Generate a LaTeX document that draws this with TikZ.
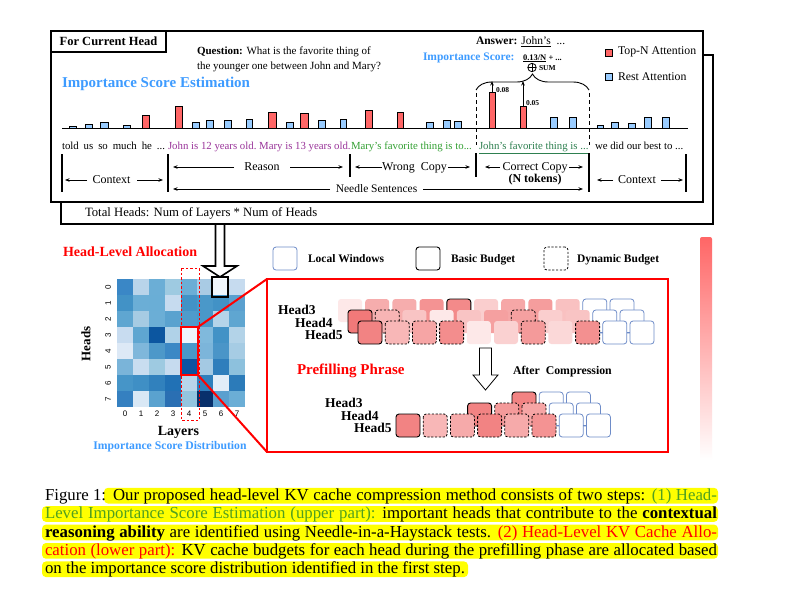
\documentclass[tikz,border=0pt]{standalone}
\usepackage{fontspec}
\setmainfont{Liberation Serif}
\newfontfamily\tickfont{Liberation Sans}
\usetikzlibrary{arrows.meta,decorations.pathreplacing,calc}
\newcommand{\fsz}[1]{\fontsize{#1}{#1}\selectfont}
\definecolor{barred}{HTML}{FF6666}
\definecolor{barblue}{HTML}{99CCFF}
\definecolor{impblue}{HTML}{3D9BFF}
\definecolor{purp}{HTML}{993399}
\definecolor{grn}{HTML}{33A033}
\definecolor{dgrn}{HTML}{2E8050}
\definecolor{capgreen}{HTML}{50A020}
\definecolor{pk}{HTML}{EE5C5C}
\definecolor{lwblue}{HTML}{6E8CC8}
\definecolor{hlyellow}{HTML}{FFFF00}
\newcommand{\kvblk}[4]{\draw[#4, fill=#3, rounded corners=3pt] (#1,#2) rectangle ++(24,23);}
\begin{document}
\begin{tikzpicture}[x=1pt,y=-1pt,
  every node/.style={inner sep=0pt, outer sep=0pt},
  txt/.style={anchor=base west},
  ctr/.style={anchor=base},
  bar/.style={draw=black, line width=0.7pt},
  arr/.style={-{Stealth[length=4.5pt,width=3.5pt]}, line width=0.8pt},
  sep/.style={line width=1.3pt},
  nob/.style={draw=none},
  bas/.style={draw=black, line width=0.9pt},
  dyn/.style={draw=black, line width=0.8pt, dash pattern=on 2.2pt off 1.6pt},
  lw/.style={draw=lwblue, line width=0.8pt},
  hollow/.style={draw=black, fill=white},
]
\useasboundingbox (0,0) rectangle (797,606);
\fill[white] (0,0) rectangle (797,606);

% ---------- upper boxes ----------
\node[draw, line width=2pt, fill=white, anchor=north west, minimum width=652, minimum height=169] (shadowbox) at (61,55) {};
\node[draw, line width=2pt, fill=white, anchor=north west, minimum width=652, minimum height=171] (mainbox) at (51,31) {};
\node[draw, line width=2pt, anchor=north west, minimum width=115, minimum height=21, font=\bfseries\fsz{12.5}] (curhead) at (51,31) {For Current Head};

\node[txt, font=\fsz{11}] (q1) at (197,54.3) {\textbf{Question:} What is the favorite thing of};
\node[txt, font=\fsz{11}] (q2) at (197,69.3) {the younger one between John and Mary?};
\node[txt, font=\bfseries\fsz{15}, text=impblue] (ise) at (62,87.3) {Importance Score Estimation};
\node[txt, font=\fsz{11.5}] (ans) at (476,44.3) {\textbf{Answer:} \underline{John's}\ \ ...};
\node[txt, font=\bfseries\fsz{11.5}, text=impblue] (isl) at (423,60) {Importance Score:};
\node[txt, font=\bfseries\fsz{8.5}] (isv) at (523,60) {\underline{0.13/N} + ...};
\node[draw, circle, minimum size=8.4, line width=0.8pt] (sum) at (532,67.5) {};
\draw[line width=0.8pt] (sum.north) -- (sum.south) (sum.west) -- (sum.east);
\node[txt, font=\bfseries\fsz{7.5}] (suml) at (539,70.5) {SUM};

\node[draw, fill=barred, minimum size=7, line width=0.7pt] (legr) at (609,52.5) {};
\node[txt, font=\fsz{11.8}] (topn) at (618,54.3) {Top-N Attention};
\node[draw, fill=barblue, minimum size=7, line width=0.7pt] (legb) at (609,77) {};
\node[txt, font=\fsz{11.8}] (rest) at (618,80) {Rest Attention};

% bars
\foreach \a/\b/\t/\c in {69/76/126/barblue,85/92/124/barblue,100/108/122/barblue,123/130/125/barblue,
  142/149/115/barred,175/182/106/barred,192/199/122/barblue,206/213/120/barblue,224/231/120/barblue,
  246/252/119/barblue,268/276/112/barred,286/293/122/barblue,300/308/113/barred,318/325/120/barblue,
  340/346/119/barblue,365/372/110/barred,397/403/112/barred,426/433/122/barblue,443/450/120/barblue,
  454/461/121/barblue,489/495/92/barred,520/526/106/barred,550/557/117/barblue,569/576/117/barblue,
  597/603/125/barblue,611/618/122/barblue,628/635/123/barblue,644/651/117/barblue,662/669/117/barblue}
  { \draw[bar, fill=\c] (\a,128) rectangle (\b,\t); }
\coordinate (axl) at (62,128); \coordinate (axr) at (688,128);
\draw[line width=0.8pt] (axl) -- (axr);

% brace and arrows
\coordinate (brL) at (476,90); \coordinate (brR) at (589,90);
\draw[decorate, decoration={brace, amplitude=16pt}, line width=0.9pt] (brL) -- (brR);
\coordinate (b08) at (492,92); \coordinate (b08e) at (492,81);
\coordinate (b05) at (523,106); \coordinate (b05e) at (523,81);
\draw[arr] (b08) -- (b08e);
\draw[arr] (b05) -- (b05e);
\node[txt, font=\bfseries\fsz{7.5}] (v08) at (496,92.5) {0.08};
\node[txt, font=\bfseries\fsz{7.5}] (v05) at (526,105.5) {0.05};
\coordinate (dl1) at (476,93); \coordinate (dl2) at (476,145);
\coordinate (dr1) at (589,93); \coordinate (dr2) at (589,145);
\draw[line width=0.9pt, dash pattern=on 4pt off 3pt] (dl1) -- (dl2);
\draw[line width=0.9pt, dash pattern=on 4pt off 3pt] (dr1) -- (dr2);

% token text row
\node[txt, font=\fsz{10.8}] (t1) at (62,149) {\makebox[103pt][s]{told us so much he ...}};
\node[txt, font=\fsz{10.8}, text=purp] (t2) at (168,149) {\frenchspacing John is 12 years old. Mary is 13 years old.};
\node[txt, font=\fsz{10.8}, text=grn] (t3) at (351,149) {Mary's favorite thing is to...};
\node[txt, font=\fsz{10.8}, text=dgrn] (t4) at (479,149) {\underline{John's favorite thing is ...}};
\node[txt, font=\fsz{10.8}] (t5) at (595,149) {we did our best to ...};

% separators
\coordinate (s1a) at (62,154);  \coordinate (s1b) at (62,192);
\coordinate (s2a) at (168,154); \coordinate (s2b) at (168,192);
\coordinate (s3a) at (350,154); \coordinate (s3b) at (350,177);
\coordinate (s4a) at (476,153); \coordinate (s4b) at (476,177);
\coordinate (s5a) at (589,153); \coordinate (s5b) at (589,192);
\coordinate (s6a) at (686,154); \coordinate (s6b) at (686,192);
\foreach \p in {1,...,6} { \draw[sep] (s\p a) -- (s\p b); }

% span labels
\node[ctr, font=\fsz{12}] (ctxl) at (111.5,183.3) {Context};
\coordinate (cl1) at (87,180); \coordinate (cl2) at (65,180);
\coordinate (cl3) at (137,180); \coordinate (cl4) at (163,180);
\draw[arr] (cl1) -- (cl2); \draw[arr] (cl3) -- (cl4);

\node[ctr, font=\fsz{12}] (reason) at (262,170) {Reason};
\coordinate (rs1) at (234,167); \coordinate (rs2) at (173,167);
\coordinate (rs3) at (290,167); \coordinate (rs4) at (343,167);
\draw[arr] (rs1) -- (rs2); \draw[arr] (rs3) -- (rs4);

\node[ctr, font=\fsz{12}] (wrong) at (414.5,170) {Wrong\ \ Copy};
\coordinate (wc1) at (382,167); \coordinate (wc2) at (355,167);
\coordinate (wc3) at (448,167); \coordinate (wc4) at (470,167);
\draw[arr] (wc1) -- (wc2); \draw[arr] (wc3) -- (wc4);

\node[ctr, font=\fsz{12}] (correct) at (535,170) {Correct Copy};
\node[ctr, font=\bfseries\fsz{12}] (ntok) at (535,182.3) {(N tokens)};
\coordinate (cc1) at (500,167); \coordinate (cc2) at (485,167);
\coordinate (cc3) at (569,167); \coordinate (cc4) at (583,167);
\draw[arr] (cc1) -- (cc2); \draw[arr] (cc3) -- (cc4);

\node[ctr, font=\fsz{11.5}] (needle) at (376.5,192.3) {Needle Sentences};
\coordinate (ns1) at (330,189); \coordinate (ns2) at (173,189);
\coordinate (ns3) at (423,189); \coordinate (ns4) at (583,189);
\draw[arr] (ns1) -- (ns2); \draw[arr] (ns3) -- (ns4);

\node[ctr, font=\fsz{12}] (ctxr) at (637,183.3) {Context};
\coordinate (cr1) at (613,180); \coordinate (cr2) at (597,180);
\coordinate (cr3) at (661,180); \coordinate (cr4) at (683,180);
\draw[arr] (cr1) -- (cr2); \draw[arr] (cr3) -- (cr4);

\node[txt, font=\fsz{12.7}] (tot) at (85,216.7) {Total Heads: Num of Layers * Num of Heads};

% ---------- lower left: heatmap ----------
\node[txt, font=\bfseries\fsz{14}, text=red] (hla) at (63,256.7) {Head-Level Allocation};

\foreach \row [count=\r from 0] in {
 {3A87C6,B9D4EA,6BAED6,9ECAE1,6BAED6,A9CBE4,F0F6FC,C6DBEF},
 {4292C6,6BAED6,6AAED6,C6DBEF,4292C6,4A98C9,4292C6,5AA0CF},
 {5FA6D1,A6CBE3,6BAED6,5AA2CF,4F9BCB,4A98C9,B5D4E9,5FA6D1},
 {C8DCF0,5FA6D1,0C56A0,B0D2E8,EEF5FC,80B9DC,4292C6,B3D3E8},
 {DDE9F6,7FB7DB,4D98C9,3C88C5,4A98C9,7CB5DA,4A95C8,A6CCE4},
 {7AB4D9,C9DDF0,9ECAE1,C6DBEF,0B53A0,A4C9E3,2F7EBC,8DC1DD},
 {4695C8,3F8FC5,3181BD,2171B5,B8D5EA,2F7FBC,E2EDF8,2C7BB9},
 {3580C0,D9E8F5,5AA2CF,2A6FB3,94C4DF,08306B,5AA0CF,6BAED6}}
{ \foreach \hex [count=\c from 0] in \row {
   \definecolor{cellc}{HTML}{\hex}
   \fill[cellc] (117+16*\c,279+16*\r) rectangle ++(16.3,16.3); } }
\foreach \k in {0,...,7} {
  \node[font=\tickfont\fsz{8}, rotate=90] (rl\k) at (108,287+16*\k) {\k};
  \node[font=\tickfont\fsz{8}] (cl\k) at (125+16*\k,414) {\k};
}
\node[font=\bfseries\fsz{13}, rotate=90] (headsl) at (86,344) {Heads};
\node[font=\bfseries\fsz{14}] (layersl) at (178.5,432.7) {Layers};
\node[font=\bfseries\fsz{11.7}, text=impblue] (isd) at (170,447) {Importance Score Distribution};

\draw[red, line width=1pt, dash pattern=on 2.5pt off 2pt] (181,268) rectangle (199,420);
\node[draw=red, line width=2pt, minimum width=17, minimum height=48] (hl) at (189.5,351) {};
\node[draw, line width=2pt, minimum width=16, minimum height=20] (selbox) at (220,287) {};

% big hollow arrow down
\draw[hollow, line width=1.6pt] (215.5,225) -- (215.5,266) -- (203,266) -- (selbox.north) -- (237,266) -- (224.5,266) -- (224.5,225);

% ---------- lower right ----------
\node[draw=red, line width=2pt, minimum width=401, minimum height=173] (bigbox) at (467.5,365.5) {};
\draw[red, line width=2pt] (hl.north east) -- (bigbox.north west);
\draw[red, line width=2pt] (hl.south east) -- (bigbox.south west);

\node[lw, rounded corners=3pt, minimum width=24, minimum height=23] (lgw) at (285,258.5) {};
\node[txt, font=\bfseries\fsz{11.5}] (lgwt) at (308,262.3) {Local Windows};
\node[bas, rounded corners=3pt, minimum width=24, minimum height=23] (lgb) at (428,258.5) {};
\node[txt, font=\bfseries\fsz{11.5}] (lgbt) at (451,262.3) {Basic Budget};
\node[dyn, rounded corners=3pt, minimum width=24, minimum height=23] (lgd) at (556,258.5) {};
\node[txt, font=\bfseries\fsz{11.5}] (lgdt) at (577,262.3) {Dynamic Budget};

\shade[top color=barred, bottom color=white, rounded corners=2pt] (700,237) rectangle (712,460);

% top block group
\node[txt, font=\bfseries\fsz{13.5}] (h3a) at (278,314.3) {Head3};
\node[txt, font=\bfseries\fsz{13.5}] (h4a) at (295,327.3) {Head4};
\node[txt, font=\bfseries\fsz{13.5}] (h5a) at (305,339.3) {Head5};
\foreach \i/\v/\s in {0/14/nob,1/50/nob,2/50/nob,3/66/nob,4/72/bas,5/30/nob,6/54/nob,7/60/nob,8/38/nob}
  { \kvblk{338+27.2*\i}{299}{pk!\v!white}{\s} }
\foreach \i in {9,10} { \kvblk{338+27.2*\i}{299}{white}{lw} }
\foreach \i/\v/\s in {0/82/bas,1/46/dyn,2/36/nob,3/14/nob,4/36/nob,5/58/nob,6/58/dyn,7/30/nob,8/36/nob}
  { \kvblk{348+27.2*\i}{310}{pk!\v!white}{\s} }
\foreach \i in {9,10} { \kvblk{348+27.2*\i}{310}{white}{lw} }
\foreach \i/\v/\s in {0/76/bas,1/44/dyn,2/55/dyn,3/70/dyn,4/14/nob,5/28/nob,6/62/dyn,7/24/nob,8/68/dyn}
  { \kvblk{358+27.2*\i}{321}{pk!\v!white}{\s} }
\foreach \i in {9,10} { \kvblk{358+27.2*\i}{321}{white}{lw} }
\draw[lwblue, line width=0.8pt] (599.6,332.5) -- (602.8,332.5) (626.8,332.5) -- (630,332.5);

% hollow arrow in box
\draw[hollow, line width=0.8pt] (479.5,348) -- (479.5,375) -- (473,375) -- (485.5,390) -- (498,375) -- (491.5,375) -- (491.5,348) -- cycle;
\node[txt, font=\bfseries\fsz{15}, text=red] (pp) at (297,374) {Prefilling Phrase};
\node[txt, font=\bfseries\fsz{11.8}] (ac) at (513,374) {After\ \ Compression};

% bottom block group
\node[txt, font=\bfseries\fsz{13.5}] (h3b) at (325,407.3) {Head3};
\node[txt, font=\bfseries\fsz{13.5}] (h4b) at (341,420.3) {Head4};
\node[txt, font=\bfseries\fsz{13.5}] (h5b) at (354,432.3) {Head5};
\kvblk{376+27.2*5}{392}{pk!76!white}{bas}
\foreach \i in {6,7} { \kvblk{376+27.2*\i}{392}{white}{lw} }
\foreach \i/\v/\s in {3/76/bas,4/62/dyn,5/55/dyn}
  { \kvblk{386+27.2*\i}{403}{pk!\v!white}{\s} }
\foreach \i in {6,7} { \kvblk{386+27.2*\i}{403}{white}{lw} }
\foreach \i/\v/\s in {0/76/bas,1/44/dyn,2/52/dyn,3/76/dyn,4/52/dyn,5/66/dyn}
  { \kvblk{396+27.2*\i}{414}{pk!\v!white}{\s} }
\foreach \i in {6,7} { \kvblk{396+27.2*\i}{414}{white}{lw} }
\draw[lwblue, line width=0.8pt] (556,425.5) -- (559.2,425.5) (583.2,425.5) -- (586.4,425.5);

% ---------- caption ----------
\foreach \xa/\xb/\yb in {104/718/500.3,42/718/518.7,42/718/537.1,42/718/555.5,42/468/573.9}
  { \fill[hlyellow, rounded corners=4pt] (\xa,\yb-12.5) rectangle (\xb,\yb+3.2); }
\node[txt, font=\fsz{16.8}] (figlab) at (45,500.3) {Figure 1:};
\node[txt, font=\fsz{16.8}] (cap1) at (113,500.3) {\makebox[604pt][s]{Our proposed head-level KV cache compression method consists of two steps: \textcolor{capgreen}{(1) Head-}}};
\node[txt, font=\fsz{16.8}] (cap2) at (45,518.7) {\makebox[672pt][s]{\textcolor{capgreen}{Level Importance Score Estimation (upper part):} important heads that contribute to the \textbf{contextual}}};
\node[txt, font=\fsz{16.8}] (cap3) at (45,537.1) {\makebox[672pt][s]{\textbf{reasoning ability} are identified using Needle-in-a-Haystack tests. \textcolor{red}{(2) Head-Level KV Cache Allo-}}};
\node[txt, font=\fsz{16.8}] (cap4) at (45,555.5) {\makebox[672pt][s]{\textcolor{red}{cation (lower part):} KV cache budgets for each head during the prefilling phase are allocated based}};
\node[txt, font=\fsz{16.8}] (cap5) at (45,573.9) {on the importance score distribution identified in the first step.};
\end{tikzpicture}
\end{document}
